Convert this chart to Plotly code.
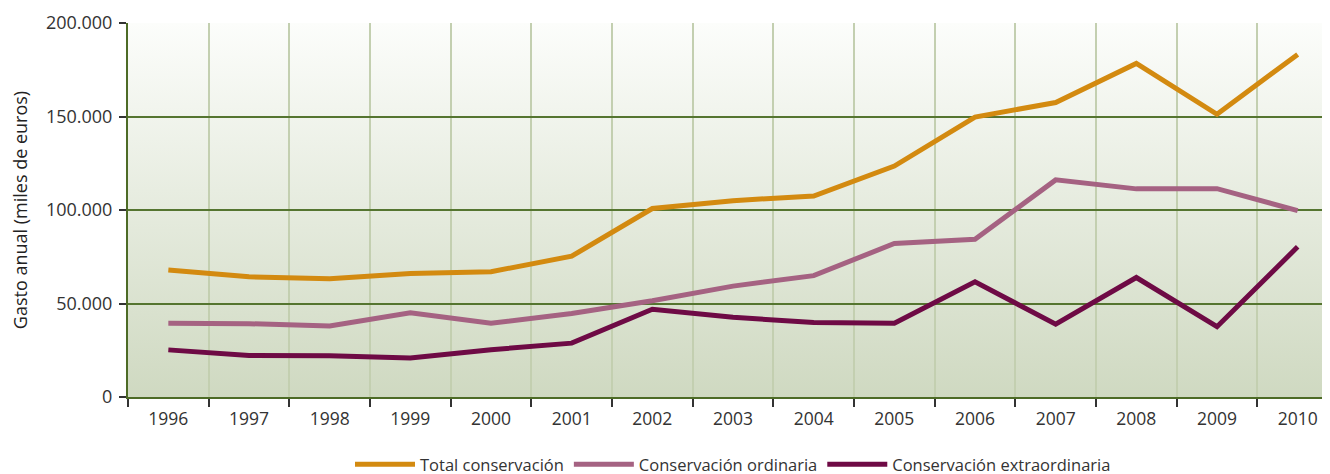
import base64
import plotly.graph_objects as go

years = ["1996", "1997", "1998", "1999", "2000", "2001", "2002", "2003",
         "2004", "2005", "2006", "2007", "2008", "2009", "2010"]
total = [67900, 64300, 63300, 66100, 67000, 75300, 100800, 105000,
         107500, 123500, 149700, 157500, 178400, 151200, 183200]
ordinaria = [39500, 39200, 38000, 45100, 39400, 44700, 51500, 59300,
             64900, 82100, 84400, 116100, 111300, 111400, 99700]
extra = [25200, 22200, 22100, 20800, 25300, 28800, 46900, 42600,
         39900, 39500, 61600, 38900, 63900, 37600, 80300]

names = ["Total conservación", "Conservación ordinaria", "Conservación extraordinaria"]
colors = ["#D38A10", "#A56282", "#6E0A45"]

svg = ('<svg xmlns="http://www.w3.org/2000/svg" width="100" height="100" preserveAspectRatio="none">'
       '<defs><linearGradient id="g" x1="0" y1="0" x2="0" y2="1">'
       '<stop offset="0" stop-color="#fcfdfb"/><stop offset="1" stop-color="#cfd9c1"/>'
       '</linearGradient></defs><rect width="100" height="100" fill="url(#g)"/></svg>')
src = "data:image/svg+xml;base64," + base64.b64encode(svg.encode()).decode()

fig = go.Figure()
for name, vals, col in zip(names, [total, ordinaria, extra], colors):
    fig.add_trace(go.Scatter(x=years, y=vals, name=name, mode="lines",
                             line=dict(color=col, width=5)))

font = "Open Sans, Noto Sans, sans-serif"
fig.update_layout(
    width=1330, height=474,
    margin=dict(l=120, r=0, t=15, b=85, autoexpand=False),
    paper_bgcolor="white",
    plot_bgcolor="rgba(0,0,0,0)",
    separators=",.",
    font=dict(family=font, size=17, color="#333333"),
    showlegend=True,
    legend=dict(orientation="h", x=0.5, xanchor="center", yref="container",
                y=0.037, yanchor="middle",
                font=dict(size=16.5, color="#333333"), itemwidth=60),
    images=[dict(source=src, xref="paper", yref="paper", x=0, y=1, sizex=1, sizey=1,
                 sizing="stretch", layer="below")],
    xaxis=dict(type="category", range=[-0.5, 14.5], tickson="boundaries",
               automargin=False, ticklabelstandoff=5,
               showgrid=True, gridcolor="#c3cfb0", gridwidth=1.5,
               showline=True, linecolor="#4d6b26", linewidth=2,
               ticks="outside", ticklen=8, tickcolor="#333333", tickwidth=1.5,
               tickfont=dict(size=17.5, color="#333333"), zeroline=False),
    yaxis=dict(range=[0, 200000], dtick=50000, tickformat=",d",
               automargin=False, ticklabelstandoff=3,
               showgrid=True, gridcolor="#557530", gridwidth=1.5,
               showline=True, linecolor="#4d6b26", linewidth=2,
               ticks="outside", ticklen=7, tickcolor="#333333", tickwidth=1.5,
               tickfont=dict(size=18, color="#333333"), zeroline=False,
               title=dict(text="Gasto anual (miles de euros)", standoff=19,
                          font=dict(size=18, color="#222222"))),
)

fig.write_html("out.html")
